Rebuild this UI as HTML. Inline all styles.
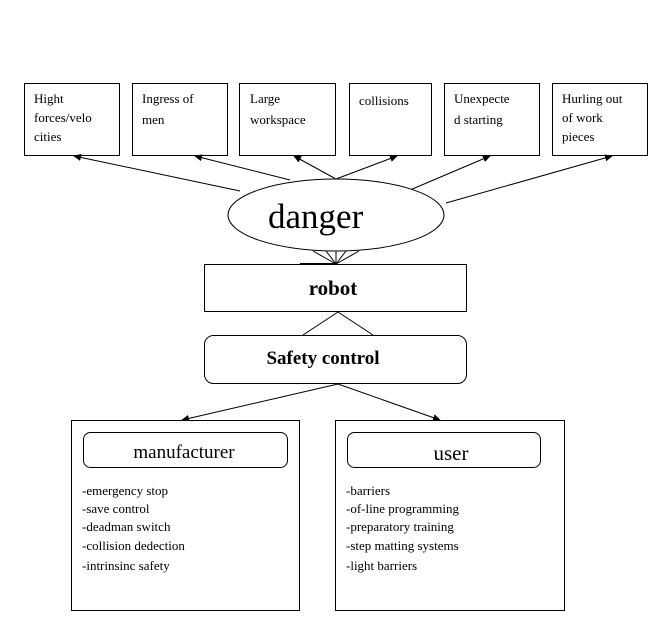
<!DOCTYPE html>
<html><head><style>
body{margin:0;background:#fff;}
svg text{font-family:"Liberation Serif",serif;fill:#000;}
</style></head><body>
<svg width="660" height="624" viewBox="0 0 660 624" xmlns="http://www.w3.org/2000/svg">
<defs><marker id="a" markerWidth="8" markerHeight="8" refX="7" refY="4" orient="auto" markerUnits="userSpaceOnUse"><path d="M0,0.5 L8,4 L0,7.5 z" fill="#000"/></marker></defs>
<g fill="#fff" stroke="#000" stroke-width="1">
<rect x="24.5" y="83.5" width="95" height="72"/>
<rect x="132.5" y="83.5" width="95" height="72"/>
<rect x="239.5" y="83.5" width="96" height="72"/>
<rect x="349.5" y="83.5" width="82" height="72"/>
<rect x="444.5" y="83.5" width="95" height="72"/>
<rect x="552.5" y="83.5" width="95" height="72"/>
</g>
<g stroke="#000" stroke-width="1" fill="none" marker-end="url(#a)">
<line x1="240" y1="191" x2="74" y2="156"/>
<line x1="290" y1="180" x2="195" y2="156"/>
<line x1="336" y1="179" x2="294" y2="156"/>
<line x1="336" y1="179" x2="397" y2="156"/>
<line x1="410" y1="190" x2="490" y2="156"/>
<line x1="446" y1="203" x2="612" y2="156"/>
<line x1="338" y1="384" x2="182" y2="420"/>
<line x1="338" y1="384" x2="440" y2="420"/>
</g>
<ellipse cx="336" cy="215" rx="108" ry="36" fill="#fff" stroke="#000"/>
<g stroke="#000" fill="none">
<line x1="313" y1="251" x2="336" y2="264"/>
<line x1="326" y1="251" x2="336" y2="264"/>
<line x1="336" y1="251" x2="336" y2="264"/>
<line x1="346" y1="251" x2="336" y2="264"/>
<line x1="359" y1="251" x2="336" y2="264"/>
<line x1="338" y1="312" x2="303" y2="335"/>
<line x1="338" y1="312" x2="373" y2="335"/>
</g>
<rect x="204.5" y="264.5" width="262" height="47" fill="#fff" stroke="#000"/>
<line x1="300" y1="264" x2="336" y2="264" stroke="#000" stroke-width="2"/>
<rect x="204.5" y="335.5" width="262" height="48" rx="9" fill="#fff" stroke="#000"/>
<rect x="71.5" y="420.5" width="228" height="190" fill="#fff" stroke="#000"/>
<rect x="335.5" y="420.5" width="229" height="190" fill="#fff" stroke="#000"/>
<rect x="83.5" y="432.5" width="204" height="35" rx="7" fill="#fff" stroke="#000"/>
<rect x="347.5" y="432.5" width="193" height="35" rx="7" fill="#fff" stroke="#000"/>
<g font-size="13">
<text x="34" y="103">Hight</text><text x="34" y="122">forces/velo</text><text x="34" y="141">cities</text>
<text x="142" y="103">Ingress of</text><text x="142" y="124">men</text>
<text x="250" y="103">Large</text><text x="250" y="124">workspace</text>
<text x="359" y="105">collisions</text>
<text x="454" y="103">Unexpecte</text><text x="454" y="124">d starting</text>
<text x="562" y="103">Hurling out</text><text x="562" y="122">of  work</text><text x="562" y="141">pieces</text>
</g>
<text x="268" y="228" font-size="35">danger</text>
<text x="333" y="295" font-size="21" font-weight="bold" text-anchor="middle">robot</text>
<text x="323" y="364" font-size="19" font-weight="bold" text-anchor="middle">Safety control</text>
<text x="184" y="458" font-size="19" text-anchor="middle">manufacturer</text>
<text x="451" y="460" font-size="21" text-anchor="middle">user</text>
<g font-size="13">
<text x="82" y="495">-emergency stop</text><text x="82" y="513">-save control</text><text x="82" y="531">-deadman switch</text><text x="82" y="550">-collision dedection</text><text x="82" y="570">-intrinsinc safety</text>
<text x="346" y="495">-barriers</text><text x="346" y="513">-of-line programming</text><text x="346" y="531">-preparatory training</text><text x="346" y="550">-step matting systems</text><text x="346" y="570">-light barriers</text>
</g>
</svg>
</body></html>
